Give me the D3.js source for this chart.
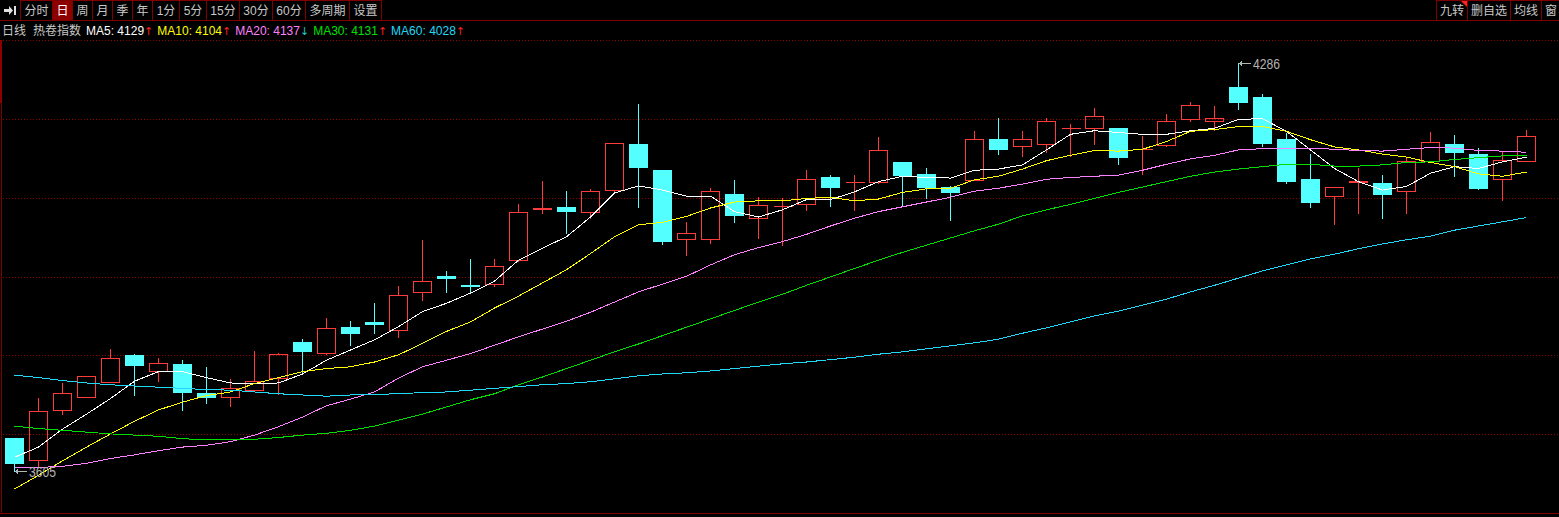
<!DOCTYPE html>
<html><head><meta charset="utf-8">
<script src="https://cdn.jsdelivr.net/npm/d3@7/dist/d3.min.js"></script>
<style>
html,body{margin:0;padding:0;background:#000;overflow:hidden}
svg{display:block}
text{font-family:"Liberation Sans",Arial,"Noto Sans CJK SC",sans-serif}
</style></head><body>
<svg id="c" width="1559" height="517"></svg>
<script>
// ---- data ----
const opens=[3660,3624,3707,3729,3753,3799,3772,3784,3735,3728,3741,3760,3820,3802,3845,3853,3840,3903,3931,3915,3918,3957,4043,4046,4038,4074,4151,4108,3992,3992,4067,4027,4047,4050,4095,4087,4087,4121,4101,4079,4090,4159,4148,4150,4177,4177,4178,4142,4149,4193,4189,4246,4229,4159,4092,4064,4088,4086,4073,4122,4151,4134,4093,4123];
const highs=[3661,3727,3752,3764,3809,3800,3794,3790,3779,3758,3805,3802,3825,3860,3855,3885,3914,3991,3939,3959,3959,4050,4089,4072,4076,4152,4217,4108,4020,4077,4091,4062,4060,4107,4099,4099,4163,4121,4111,4080,4173,4194,4173,4194,4184,4211,4178,4164,4201,4221,4214,4286,4235,4170,4134,4079,4111,4099,4127,4171,4166,4144,4138,4175];
const lows=[3605,3612,3701,3729,3753,3732,3756,3707,3719,3714,3740,3734,3768,3800,3816,3836,3828,3890,3903,3903,3914,3956,4035,4003,4027,4071,4046,3984,3966,3986,4021,3994,3983,4040,4048,4041,4086,4049,4061,4024,4090,4134,4131,4138,4131,4151,4117,4101,4148,4190,4175,4209,4148,4085,4046,4018,4036,4028,4035,4121,4098,4075,4057,4122];
const closes=[3617,3706,3735,3764,3793,3781,3785,3736,3727,3743,3756,3800,3804,3843,3833,3848,3898,3923,3926,3912,3948,4037,4044,4038,4072,4152,4110,3988,4002,4072,4031,4049,4048,4092,4077,4088,4140,4097,4077,4069,4160,4141,4160,4189,4178,4197,4128,4143,4189,4216,4194,4220,4150,4087,4053,4079,4089,4065,4122,4155,4135,4076,4124,4165];
const ma5=[3628,3645,3675,3700,3726,3755,3771,3771,3761,3752,3751,3752,3767,3790,3807,3824,3846,3871,3885,3902,3922,3957,3977,3996,4029,4069,4081,4074,4064,4064,4038,4029,4041,4058,4058,4071,4088,4097,4095,4094,4107,4109,4116,4141,4167,4173,4170,4167,4167,4173,4177,4192,4193,4172,4141,4110,4088,4074,4080,4102,4113,4110,4121,4129];
const ma10=[3575,3598,3622,3645,3667,3688,3707,3720,3731,3737,3751,3761,3771,3776,3779,3787,3799,3818,3838,3854,3877,3897,3919,3941,3968,3996,4016,4020,4030,4044,4054,4056,4056,4060,4062,4056,4059,4070,4076,4077,4091,4097,4109,4123,4132,4140,4139,4142,4155,4172,4175,4180,4180,4172,4158,4146,4141,4134,4129,4120,4113,4101,4097,4104];
const ma20=[3611,3611,3613,3618,3626,3632,3639,3645,3648,3654,3665,3679,3695,3714,3725,3737,3760,3779,3790,3801,3815,3829,3842,3855,3870,3887,3904,3917,3930,3949,3966,3978,3988,4000,4014,4027,4038,4046,4054,4062,4072,4077,4084,4092,4095,4097,4099,4107,4117,4126,4132,4141,4143,4144,4144,4142,4140,4139,4142,4145,4144,4140,4139,4137];
const ma30=[3680,3676,3673,3670,3667,3665,3663,3659,3657,3657,3658,3661,3665,3668,3673,3680,3690,3700,3712,3724,3734,3749,3762,3776,3790,3804,3817,3831,3845,3859,3873,3887,3900,3915,3929,3943,3957,3970,3982,3994,4006,4017,4031,4041,4050,4060,4070,4079,4088,4097,4104,4109,4113,4117,4117,4114,4114,4116,4120,4121,4125,4128,4131,4131];
const ma60=[3765,3761,3756,3752,3749,3747,3745,3743,3741,3740,3737,3734,3732,3730,3732,3733,3734,3736,3737,3740,3743,3746,3749,3751,3754,3759,3764,3767,3769,3772,3776,3780,3784,3787,3791,3795,3800,3804,3809,3814,3819,3825,3835,3844,3854,3864,3872,3882,3892,3904,3915,3927,3939,3949,3959,3967,3976,3984,3991,3997,4007,4014,4021,4028];
const toolbarLeft=["分时","日","周","月","季","年","1分","5分","15分","30分","60分","多周期","设置"];
const toolbarRight=["九转","删自选","均线","窗"];
const legendTitle=["日线","热卷指数"];
const maNames=["MA5","MA10","MA20","MA30","MA60"];
const maLast=[4129,4104,4137,4131,4028];
const maDir=["↑","↑","↓","↑","↑"];
const highLabel=4286, lowLabel=3605;
const yDomain=[3535,4324.4];

// ---- styles ----
const RED="#ff3c3c", CYAN="#54ffff", DARK="#800000";
const maColors=["#ffffff","#ffff00","#ff80ff","#00e000","#20d8f8"];

const svg=d3.select("#c");
svg.append("rect").attr("width",1559).attr("height",517).attr("fill","#000");

const N=closes.length;
const x=d3.scaleBand().domain(d3.range(N)).range([2.5,2.5+N*24]);
const cx=i=>x(i)+x.bandwidth()/2;
const y=d3.scaleLinear().domain(yDomain).range([513,40]);

// ---- grid ----
const g=svg.append("g");
const gridVals=d3.range(0,7).map(k=>yDomain[0]+(yDomain[1]-yDomain[0])*k/6);
g.selectAll("line.grid").data(gridVals.slice(1)).join("line")
 .attr("x1",3).attr("x2",1559)
 .attr("y1",d=>Math.round(y(d))+0.5).attr("y2",d=>Math.round(y(d))+0.5)
 .attr("stroke","#900000").attr("stroke-dasharray","1,2");
// borders
g.append("line").attr("x1",1.5).attr("x2",1.5).attr("y1",40).attr("y2",513).attr("stroke",DARK);
g.append("rect").attr("x",0).attr("y",40).attr("width",2).attr("height",63).attr("fill","#8c0000");
g.append("line").attr("x1",0).attr("x2",1559).attr("y1",513.5).attr("y2",513.5).attr("stroke",DARK);
g.append("line").attr("x1",0).attr("x2",1559).attr("y1",20.5).attr("y2",20.5).attr("stroke",DARK);

// ---- candles ----
const cg=svg.append("g").attr("shape-rendering","crispEdges");
d3.range(N).forEach(i=>{
  const c=cx(i), o=opens[i], cl=closes[i];
  const yo=Math.round(y(o)), yc=Math.round(y(cl)), yh=Math.round(y(highs[i])), yl=Math.round(y(lows[i]));
  const up=cl>=o;
  const top=Math.min(yo,yc), bot=Math.max(yo,yc);
  if(up){
    if(bot-top<1){
      cg.append("line").attr("x1",c-9).attr("x2",c+10).attr("y1",top+0.5).attr("y2",top+0.5).attr("stroke",RED);
      cg.append("line").attr("x1",c).attr("x2",c).attr("y1",yh).attr("y2",yl+1).attr("stroke",RED);
    } else {
      if(yh<top) cg.append("line").attr("x1",c).attr("x2",c).attr("y1",yh).attr("y2",top).attr("stroke",RED);
      if(yl>bot) cg.append("line").attr("x1",c).attr("x2",c).attr("y1",bot+1).attr("y2",yl+1).attr("stroke",RED);
      cg.append("rect").attr("x",c-9).attr("y",top+0.5).attr("width",18).attr("height",bot-top)
        .attr("fill","none").attr("stroke",RED);
    }
  } else {
    cg.append("line").attr("x1",c).attr("x2",c).attr("y1",yh).attr("y2",yl+1).attr("stroke",CYAN);
    cg.append("rect").attr("x",c-9.5).attr("y",top).attr("width",19).attr("height",Math.max(bot-top,2))
      .attr("fill",CYAN);
  }
});

// ---- MA lines ----
const line=d3.line().x((d,i)=>cx(i)).y(d=>y(d));
[ma5,ma10,ma20,ma30,ma60].forEach((arr,k)=>{
  svg.append("path").attr("d",line(arr)).attr("fill","none")
    .attr("stroke",maColors[k]).attr("stroke-width",1).attr("shape-rendering","crispEdges");
});

// ---- high/low annotations ----
function mark(idx,val){
  const xa=cx(idx)+0.5, ya=Math.round(y(val))+0.5;
  const a=svg.append("g").attr("stroke","#b4b4b4").attr("fill","none").attr("shape-rendering","crispEdges");
  a.append("line").attr("x1",xa).attr("x2",xa+12).attr("y1",ya).attr("y2",ya);
  a.append("path").attr("d",`M${xa+3},${ya-2}L${xa+1},${ya}L${xa+3},${ya+2}`);
  svg.append("text").attr("x",xa+14).attr("y",ya+5).attr("fill","#b4b4b4")
    .attr("font-size",14).attr("textLength",27).attr("lengthAdjust","spacingAndGlyphs").text(val);
}
const hiIdx=highs.indexOf(d3.max(highs)), loIdx=lows.indexOf(d3.min(lows));
mark(hiIdx,highLabel);
mark(loIdx,lowLabel);

// ---- toolbar ----
const tb=svg.append("g");
tb.append("path").attr("d","M4,9H9V6L13,10.5L9,15V12H4Z").attr("fill","#e0e0e0");
tb.append("rect").attr("x",14).attr("y",6).attr("width",2).attr("height",9).attr("fill","#e0e0e0");
let bx=20.5;
toolbarLeft.forEach((t,i)=>{
  const txt=tb.append("text").attr("font-size",12).attr("y",15).attr("fill",i===1?"#fff":"#c8c8c8").text(t);
  const w=txt.node().getComputedTextLength();
  const bw=Math.round(w+8);
  tb.insert("rect","text").attr("x",bx).attr("y",0.5).attr("width",bw).attr("height",20)
    .attr("fill",i===1?"#8c0000":"#000").attr("stroke",DARK);
  txt.attr("x",bx+bw/2).attr("text-anchor","middle");
  bx+=bw;
});
let rx=1560.5;
toolbarRight.slice().reverse().forEach(t=>{
  const txt=tb.append("text").attr("font-size",12).attr("y",15).attr("fill","#c8c8c8").text(t);
  const w=txt.node().getComputedTextLength();
  const bw=Math.round(w+7);
  rx-=bw;
  tb.insert("rect","text").attr("x",rx).attr("y",0.5).attr("width",bw).attr("height",20)
    .attr("fill","#000").attr("stroke",DARK);
  txt.attr("x",rx+bw/2).attr("text-anchor","middle");
  if(t==="九转"){
    tb.append("path").attr("d",`M${rx+bw-6.5},1L${rx+bw-0.5},1L${rx+bw-0.5},7Z`).attr("fill","#ff2020");
  }
});

// ---- legend ----
const lg=svg.append("g");
let lx=2;
legendTitle.forEach((t,i)=>{
  const tx=lg.append("text").attr("x",lx).attr("y",35).attr("font-size",12).attr("fill","#c8c8c8").text(t);
  lx+=tx.node().getComputedTextLength()+(i===0?7:5);
});
maNames.forEach((n,k)=>{
  const tx=lg.append("text").attr("x",lx).attr("y",35).attr("font-size",12).attr("fill",maColors[k]).text(`${n}: ${maLast[k]}`);
  tx.append("tspan").attr("fill",maDir[k]==="↑"?"#ff2020":"#20c8c8").attr("font-family","DejaVu Sans").attr("font-size",11).text(maDir[k]);
  lx+=tx.node().getComputedTextLength()+4;
});
</script>
</body></html>
